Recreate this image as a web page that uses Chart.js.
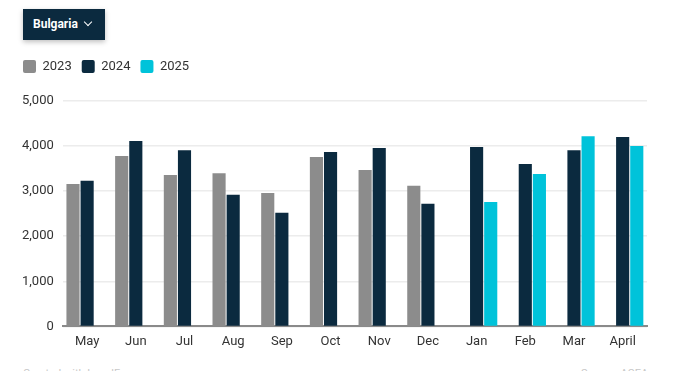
<!DOCTYPE html>
<html>
<head>
<meta charset="utf-8">
<script src="https://cdn.jsdelivr.net/npm/chart.js@4"></script>
<style>
    body { margin: 0; background: #fff; font-family: Roboto, sans-serif; width: 678px; height: 371px; overflow: hidden; position: relative; }
    .picker {
        position: absolute; left: 23px; top: 9px; width: 82px; height: 31px;
        background: #0b2a3f; color: #fff; font-size: 12px; font-weight: bold;
        box-shadow: 0 2px 5px rgba(0,0,0,0.25); box-sizing: border-box;
        padding-left: 10px; line-height: 31px;
    }
    .picker .chev {
        position: absolute; left: 62px; top: 10px; width: 5px; height: 5px;
        border-right: 1.6px solid #fff; border-bottom: 1.6px solid #fff; transform: rotate(45deg);
    }
    #wrap { position: absolute; left: 0; top: 50px; width: 678px; height: 308px; }
    .foot { position: absolute; top: 367px; font-size: 11px; color: #c8c8c8; }
</style>
</head>
<body>
<div class="picker">Bulgaria<span class="chev"></span></div>
<div id="wrap"><canvas id="chart"></canvas></div>
<div class="foot" style="left:23px">Created with LocalFocus</div>
<div class="foot" style="left:581px">Source: ACEA</div>
<script>
// months (May 2024 season -> April 2025)
const months = ['May', 'Jun', 'Jul', 'Aug', 'Sep', 'Oct', 'Nov', 'Dec', 'Jan', 'Feb', 'Mar', 'April'];

const values2023 = [3160, 3780, 3360, 3400, 2960, 3760, 3470, 3120, null, null, null, null];
const values2024 = [3230, 4110, 3910, 2920, 2520, 3870, 3960, 2720, 3980, 3600, 3910, 4200];
const values2025 = [null, null, null, null, null, null, null, null, 2760, 3380, 4220, 4000];

const yTicks = [0, 1000, 2000, 3000, 4000, 5000];

const colors = {
    y2023: '#8c8c8c',
    y2024: '#0b2a3f',
    y2025: '#00c3da'
};

// push the plot area down a bit below the legend
const legendSpacer = {
    id: 'legendSpacer',
    beforeInit(chart) {
        const origFit = chart.legend.fit;
        chart.legend.fit = function () {
            origFit.bind(chart.legend)();
            this.height += 18;
        };
    }
};

const ctx = document.getElementById('chart').getContext('2d');
new Chart(ctx, {
    type: 'bar',
    data: {
        labels: months,
        datasets: [
            { label: '2023', data: values2023, backgroundColor: colors.y2023 },
            { label: '2024', data: values2024, backgroundColor: colors.y2024 },
            { label: '2025', data: values2025, backgroundColor: colors.y2025 }
        ]
    },
    plugins: [legendSpacer],
    options: {
        responsive: true,
        maintainAspectRatio: false,
        animation: false,
        layout: { padding: { left: 13, right: 31, top: 0, bottom: 0 } },
        datasets: { bar: { categoryPercentage: 0.87, barPercentage: 0.93 } },
        plugins: {
            legend: {
                position: 'top',
                align: 'start',
                labels: {
                    boxWidth: 13, boxHeight: 13, useBorderRadius: true, borderRadius: 2,
                    color: '#333', font: { family: 'Roboto', size: 13 }, padding: 10
                }
            },
            tooltip: { enabled: false }
        },
        scales: {
            y: {
                min: 0, max: 5000,
                afterBuildTicks: axis => { axis.ticks = yTicks.map(v => ({ value: v })); },
                ticks: {
                    color: '#333', font: { family: 'Roboto', size: 13 }, padding: 9,
                    callback: v => v.toLocaleString('en-US')
                },
                grid: { color: '#ececec', lineWidth: 1.5, drawTicks: false },
                border: { display: false }
            },
            x: {
                ticks: { color: '#333', font: { family: 'Roboto', size: 13 }, padding: 8 },
                grid: { display: false, drawTicks: false },
                border: { color: '#8a8a8a', width: 2 }
            }
        }
    }
});
</script>
</body>
</html>
